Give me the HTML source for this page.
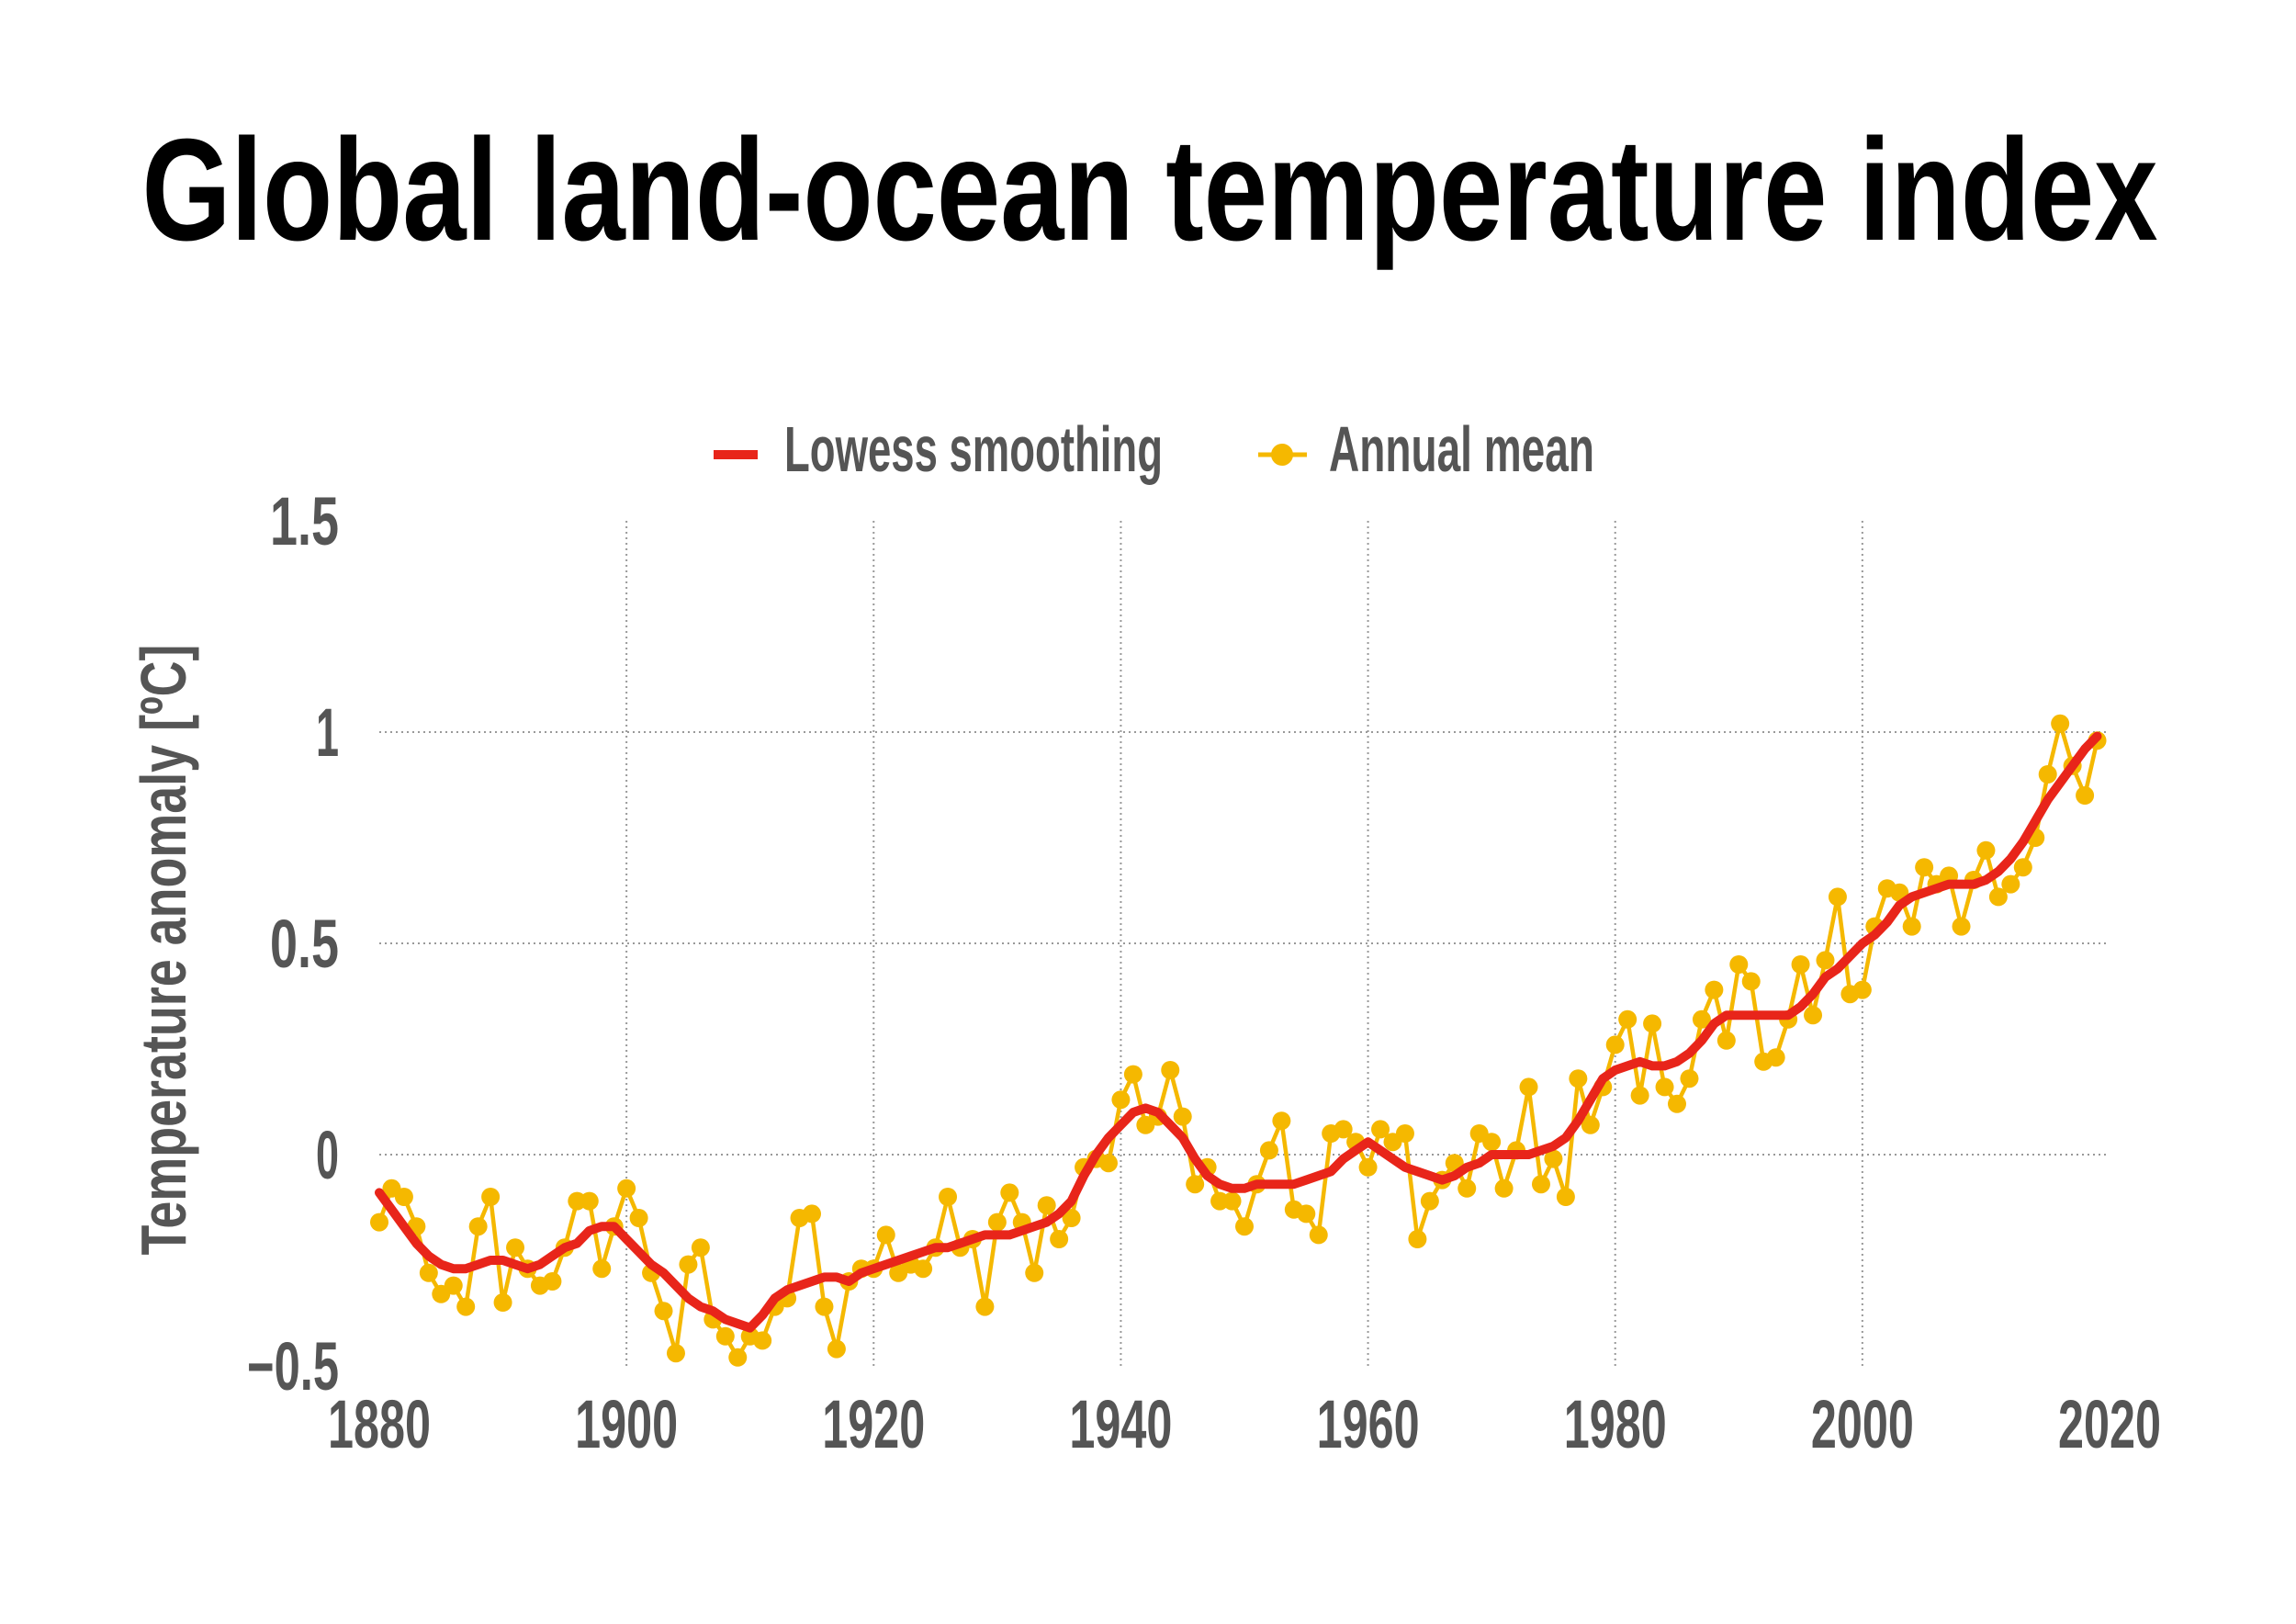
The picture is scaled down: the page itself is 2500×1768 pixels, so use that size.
<!DOCTYPE html>
<html><head><meta charset="utf-8">
<style>
html,body{margin:0;padding:0;background:#fff;}
svg{display:block;}
text{font-family:"Liberation Sans",sans-serif;}
</style></head>
<body>
<svg id="chart" width="2500" height="1768" viewBox="0 0 2500 1768" xmlns="http://www.w3.org/2000/svg">
<rect width="2500" height="1768" fill="#fff"/>
<text x="1252" y="261" text-anchor="middle" font-size="158" font-weight="bold" fill="#000" textLength="2195" lengthAdjust="spacingAndGlyphs">Global land-ocean temperature index</text>
<g>
  <line x1="777" y1="495" x2="825" y2="495" stroke="#E8251A" stroke-width="10"/>
  <text x="854" y="513" font-size="70" font-weight="bold" fill="#555" textLength="412" lengthAdjust="spacingAndGlyphs">Lowess smoothing</text>
  <line x1="1370" y1="495" x2="1423" y2="495" stroke="#F5B800" stroke-width="5"/>
  <circle cx="1396" cy="495" r="12" fill="#F5B800"/>
  <text x="1447" y="513" font-size="70" font-weight="bold" fill="#555" textLength="289" lengthAdjust="spacingAndGlyphs">Annual mean</text>
</g>
<text transform="translate(202,1034) rotate(-90)" text-anchor="middle" font-size="70" font-weight="bold" fill="#555" textLength="665" lengthAdjust="spacingAndGlyphs">Temperature anomaly [ºC]</text>
<g id="grid"></g>
<g id="ticks"></g>
<g id="series"></g>
</svg>
<script>
const years = [];
for (let y = 1880; y <= 2019; y++) years.push(y);
const annualMean = [
-0.16,-0.08,-0.10,-0.17,-0.28,-0.33,-0.31,-0.36,-0.17,-0.10,
-0.35,-0.22,-0.27,-0.31,-0.30,-0.22,-0.11,-0.11,-0.27,-0.17,
-0.08,-0.15,-0.28,-0.37,-0.47,-0.26,-0.22,-0.39,-0.43,-0.48,
-0.43,-0.44,-0.36,-0.34,-0.15,-0.14,-0.36,-0.46,-0.30,-0.27,
-0.27,-0.19,-0.28,-0.26,-0.27,-0.22,-0.10,-0.22,-0.20,-0.36,
-0.16,-0.09,-0.16,-0.28,-0.12,-0.20,-0.15,-0.03,-0.01,-0.02,
0.13,0.19,0.07,0.09,0.20,0.09,-0.07,-0.03,-0.11,-0.11,
-0.17,-0.07,0.01,0.08,-0.13,-0.14,-0.19,0.05,0.06,0.03,
-0.03,0.06,0.03,0.05,-0.20,-0.11,-0.06,-0.02,-0.08,0.05,
0.03,-0.08,0.01,0.16,-0.07,-0.01,-0.10,0.18,0.07,0.16,
0.26,0.32,0.14,0.31,0.16,0.12,0.18,0.32,0.39,0.27,
0.45,0.41,0.22,0.23,0.32,0.45,0.33,0.46,0.61,0.38,
0.39,0.54,0.63,0.62,0.54,0.68,0.64,0.66,0.54,0.65,
0.72,0.61,0.64,0.68,0.75,0.90,1.02,0.92,0.85,0.98];
const lowess = [
-0.09,-0.13,-0.17,-0.21,-0.24,-0.26,-0.27,-0.27,-0.26,-0.25,
-0.25,-0.26,-0.27,-0.26,-0.24,-0.22,-0.21,-0.18,-0.17,-0.17,
-0.20,-0.23,-0.26,-0.28,-0.31,-0.34,-0.36,-0.37,-0.39,-0.40,
-0.41,-0.38,-0.34,-0.32,-0.31,-0.30,-0.29,-0.29,-0.30,-0.28,
-0.27,-0.26,-0.25,-0.24,-0.23,-0.22,-0.22,-0.21,-0.20,-0.19,
-0.19,-0.19,-0.18,-0.17,-0.16,-0.14,-0.11,-0.05,0.00,0.04,
0.07,0.10,0.11,0.10,0.07,0.04,-0.01,-0.05,-0.07,-0.08,
-0.08,-0.07,-0.07,-0.07,-0.07,-0.06,-0.05,-0.04,-0.01,0.01,
0.03,0.01,-0.01,-0.03,-0.04,-0.05,-0.06,-0.05,-0.03,-0.02,
0.00,0.00,0.00,0.00,0.01,0.02,0.04,0.08,0.13,0.18,
0.20,0.21,0.22,0.21,0.21,0.22,0.24,0.27,0.31,0.33,
0.33,0.33,0.33,0.33,0.33,0.35,0.38,0.42,0.44,0.47,
0.50,0.52,0.55,0.59,0.61,0.62,0.63,0.64,0.64,0.64,
0.65,0.67,0.70,0.74,0.79,0.84,0.88,0.92,0.96,0.99];
const xTicks = [1880,1900,1920,1940,1960,1980,2000,2020];
const xTickLabels = ["1880","1900","1920","1940","1960","1980","2000","2020"];
const yTicks = [1.5,1,0.5,0,-0.5];
const yTickLabels = ["1.5","1","0.5","0","\u22120.5"];

const NS = "http://www.w3.org/2000/svg";
const X0 = 413, X1 = 2297, Y0 = 1257, YU = 460;
function xs(v){ return X0 + (v - 1880) * (X1 - X0) / 140; }
function ys(v){ return Y0 - v * YU; }
function mk(tag, attrs, parent){
  const e = document.createElementNS(NS, tag);
  for (const k in attrs) e.setAttribute(k, attrs[k]);
  parent.appendChild(e);
  return e;
}
const grid = document.getElementById('grid');
const ticks = document.getElementById('ticks');
const series = document.getElementById('series');

xTicks.forEach((t, i) => {
  if (t > 1880 && t < 2020) {
    const l = mk('line', {x1: xs(t), x2: xs(t), y1: ys(1.5), y2: ys(-0.5), stroke: '#999', 'stroke-width': 2, 'stroke-dasharray': '2 4'}, grid);
    
    
  }
  const tx = mk('text', {x: xs(t), y: 1576, 'text-anchor': 'middle', 'font-size': 74, 'font-weight': 'bold', fill: '#555', textLength: 112, lengthAdjust: 'spacingAndGlyphs'}, ticks);
  tx.textContent = xTickLabels[i];
  
  
});
yTicks.forEach((t, i) => {
  if (t < 1.5 && t > -0.5) {
    const l = mk('line', {x1: xs(1880), x2: xs(2020), y1: ys(t), y2: ys(t), stroke: '#999', 'stroke-width': 2, 'stroke-dasharray': '2 4'}, grid);
    
    
  }
  const w = yTickLabels[i].length * 25;
  const tx = mk('text', {x: 369, y: ys(t) + 26, 'text-anchor': 'end', 'font-size': 74, 'font-weight': 'bold', fill: '#555', textLength: w, lengthAdjust: 'spacingAndGlyphs'}, ticks);
  tx.textContent = yTickLabels[i];
  
  
});

const annPts = years.map((y, i) => xs(y).toFixed(1) + ',' + ys(annualMean[i]).toFixed(1)).join(' ');
const annLine = mk('polyline', {points: annPts, fill: 'none', stroke: '#F5B800', 'stroke-width': 4.5, 'stroke-linejoin': 'round'}, series);


years.forEach((y, i) => {
  const c = mk('circle', {cx: xs(y), cy: ys(annualMean[i]), r: 10, fill: '#F5B800'}, series);
  
  
});
const lowPts = years.map((y, i) => xs(y).toFixed(1) + ',' + ys(lowess[i]).toFixed(1)).join(' ');
const lowLine = mk('polyline', {points: lowPts, fill: 'none', stroke: '#E8251A', 'stroke-width': 10, 'stroke-linejoin': 'round', 'stroke-linecap': 'round'}, series);


</script>
</body></html>
